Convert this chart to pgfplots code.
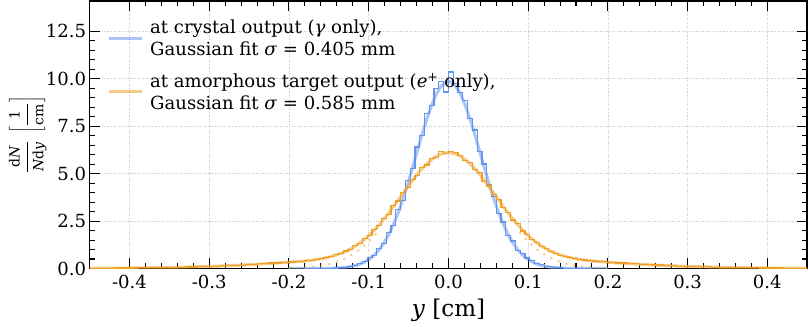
\documentclass[border=0pt]{standalone}
\usepackage{fontspec}
\setmainfont{DejaVu Serif}
\usepackage{pgfplots}
\pgfplotsset{compat=1.18}
\definecolor{cblue}{RGB}{100,149,237}
\definecolor{corange}{RGB}{238,160,40}
\newcommand{\yl}[1]{\mbox{\fontsize{14}{14}\selectfont #1}}
\begin{document}
\begin{tikzpicture}
\begin{axis}[
  scale only axis, width=713bp, height=266bp,
  xmin=-0.45, xmax=0.45, ymin=0, ymax=14.1,
  xtick={-0.4,-0.3,-0.2,-0.1,0,0.1,0.2,0.3,0.4},
  ytick={0,2.5,5,7.5,10,12.5},
  minor x tick num=4, minor y tick num=4,
  tick align=inside, xtick pos=both, ytick pos=both,
  major tick length=10bp, minor tick length=5bp,
  every tick/.style={black, line width=1bp},
  axis line style={line width=1.6bp},
  grid=major, major grid style={dotted, gray!45, line width=0.7bp},
  no markers,
  /pgf/number format/assume math mode=true,
  xticklabel style={/pgf/number format/fixed, /pgf/number format/fixed zerofill, /pgf/number format/precision=1},
  yticklabel style={/pgf/number format/fixed, /pgf/number format/fixed zerofill, /pgf/number format/precision=1},
  tick label style={font=\fontsize{18}{20}\selectfont},
  xticklabel shift=3bp,
  xlabel={\textit{y} [cm]},
  xlabel style={font=\fontsize{23}{26}\selectfont, inner sep=5bp},
  xlabel shift=2bp,
  ylabel={$\displaystyle\frac{\yl{d\textit{N}}}{\yl{\textit{N}d\textit{y}}}\;\left[\frac{\yl{1}}{\yl{cm}}\right]$},
  ylabel style={font=\fontsize{18}{20}\selectfont, inner sep=9bp},
  ylabel shift=-13bp,
  legend style={at={(rel axis cs:0.021,0.945)}, anchor=north west, draw=none, fill=none,
    font=\fontsize{18}{22}\selectfont, cells={anchor=west, align=left}, row sep=12bp, column sep=5bp},
  legend cell align=left,
  legend image code/.code={\draw[#1] (0bp,0bp) -- (32bp,0bp);},
]
% blue Gaussian fit
\addplot[draw=cblue, line width=3bp, draw opacity=0.55, line join=round] coordinates {
(-0.2,0) (-0.165,0.002) (-0.153,0.008) (-0.147,0.014) (-0.141,0.023) (-0.135,0.038) (-0.129,0.062)
(-0.123,0.098) (-0.117,0.152) (-0.111,0.230) (-0.105,0.342) (-0.099,0.496) (-0.093,0.705)
(-0.087,0.980) (-0.081,1.333) (-0.075,1.773) (-0.069,2.308) (-0.063,2.937) (-0.057,3.659)
(-0.051,4.457) (-0.045,5.313) (-0.039,6.196) (-0.033,7.067) (-0.027,7.887) (-0.021,8.611)
(-0.015,9.197) (-0.009,9.610) (-0.003,9.823) (0,9.85) (0.003,9.823) (0.009,9.610) (0.015,9.197)
(0.021,8.611) (0.027,7.887) (0.033,7.067) (0.039,6.196) (0.045,5.313) (0.051,4.457) (0.057,3.659)
(0.063,2.937) (0.069,2.308) (0.075,1.773) (0.081,1.333) (0.087,0.980) (0.093,0.705) (0.099,0.496)
(0.105,0.342) (0.111,0.230) (0.117,0.152) (0.123,0.098) (0.129,0.062) (0.135,0.038) (0.141,0.023)
(0.147,0.014) (0.153,0.008) (0.165,0.002) (0.2,0)
};
\addlegendentry{at crystal output (\textit{γ} only),\\Gaussian fit \textit{σ} = 0.405 mm}
% blue histogram
\addplot[const plot, draw=cblue, line width=1.2bp, forget plot] coordinates {
(-0.180,0.001) (-0.174,0.002) (-0.168,0.003) (-0.162,0.006) (-0.156,0.01) (-0.150,0.018)
(-0.144,0.03) (-0.138,0.05) (-0.132,0.07) (-0.126,0.12) (-0.120,0.16) (-0.114,0.26)
(-0.108,0.36) (-0.102,0.56) (-0.096,0.68) (-0.090,1.05) (-0.084,1.3) (-0.078,1.9)
(-0.072,2.25) (-0.066,3.1) (-0.060,3.6) (-0.054,4.65) (-0.048,5.25) (-0.042,6.4)
(-0.036,7.0) (-0.030,8.15) (-0.024,8.6) (-0.018,9.5) (-0.012,9.85) (-0.006,9.3)
(0.000,10.35) (0.006,9.75) (0.012,9.25) (0.018,8.85) (0.024,7.9) (0.030,7.3)
(0.036,6.15) (0.042,5.5) (0.048,4.4) (0.054,3.8) (0.060,2.9) (0.066,2.45)
(0.072,1.75) (0.078,1.45) (0.084,0.95) (0.090,0.8) (0.096,0.55) (0.102,0.42)
(0.108,0.27) (0.114,0.2) (0.120,0.12) (0.126,0.09) (0.132,0.05) (0.138,0.035)
(0.144,0.02) (0.150,0.012) (0.156,0.007) (0.162,0.004) (0.168,0.002) (0.174,0.001) (0.180,0.001)
};
% orange fit
\addplot[draw=corange, line width=3bp, draw opacity=0.55, line join=round] coordinates {
(-0.45,0.011) (-0.435,0.014) (-0.42,0.018) (-0.405,0.024) (-0.39,0.03) (-0.375,0.038) (-0.36,0.048)
(-0.345,0.06) (-0.33,0.075) (-0.315,0.09) (-0.30,0.11) (-0.285,0.135) (-0.27,0.16) (-0.255,0.19)
(-0.24,0.22) (-0.225,0.26) (-0.21,0.30) (-0.195,0.349) (-0.189,0.366) (-0.183,0.386) (-0.177,0.411)
(-0.171,0.440) (-0.165,0.475) (-0.159,0.519) (-0.153,0.571) (-0.147,0.632) (-0.141,0.704)
(-0.135,0.793) (-0.129,0.900) (-0.123,1.026) (-0.117,1.175) (-0.111,1.347) (-0.105,1.546)
(-0.099,1.769) (-0.093,2.020) (-0.087,2.295) (-0.081,2.594) (-0.075,2.914) (-0.069,3.250)
(-0.063,3.599) (-0.057,3.954) (-0.051,4.304) (-0.045,4.644) (-0.039,4.966) (-0.033,5.262)
(-0.027,5.524) (-0.021,5.743) (-0.015,5.914) (-0.009,6.031) (-0.003,6.093) (0,6.10)
(0.003,6.093) (0.009,6.031) (0.015,5.914) (0.021,5.743) (0.027,5.524) (0.033,5.262)
(0.039,4.966) (0.045,4.644) (0.051,4.304) (0.057,3.954) (0.063,3.599) (0.069,3.250)
(0.075,2.914) (0.081,2.594) (0.087,2.295) (0.093,2.020) (0.099,1.769) (0.105,1.546)
(0.111,1.347) (0.117,1.175) (0.123,1.026) (0.129,0.900) (0.135,0.793) (0.141,0.704)
(0.147,0.632) (0.153,0.571) (0.159,0.519) (0.165,0.475) (0.171,0.440) (0.177,0.411)
(0.183,0.386) (0.189,0.366) (0.195,0.349) (0.21,0.30) (0.225,0.26) (0.24,0.22) (0.255,0.19)
(0.27,0.16) (0.285,0.135) (0.30,0.11) (0.315,0.09) (0.33,0.075) (0.345,0.06) (0.36,0.048)
(0.375,0.038) (0.39,0.03) (0.405,0.024) (0.42,0.018) (0.435,0.014) (0.45,0.011)
};
\addlegendentry{at amorphous target output (\textit{e}\textsuperscript{+} only),\\Gaussian fit \textit{σ} = 0.585 mm}
% orange histogram
\addplot[const plot, draw=corange, line width=1.2bp, forget plot] coordinates {
(-0.45,0.012) (-0.435,0.016) (-0.42,0.023) (-0.405,0.027) (-0.39,0.036) (-0.375,0.043)
(-0.36,0.056) (-0.345,0.07) (-0.33,0.083) (-0.315,0.102) (-0.30,0.122) (-0.285,0.152)
(-0.27,0.178) (-0.255,0.218) (-0.24,0.248) (-0.225,0.29) (-0.21,0.315)
(-0.198,0.34) (-0.192,0.37) (-0.186,0.38) (-0.180,0.42) (-0.174,0.43) (-0.168,0.48)
(-0.162,0.51) (-0.156,0.58) (-0.150,0.62) (-0.144,0.72) (-0.138,0.78) (-0.132,0.92)
(-0.126,1.0) (-0.120,1.2) (-0.114,1.32) (-0.108,1.58) (-0.102,1.72) (-0.096,2.07)
(-0.090,2.25) (-0.084,2.65) (-0.078,2.85) (-0.072,3.3) (-0.066,3.55) (-0.060,4.0)
(-0.054,4.25) (-0.048,4.7) (-0.042,4.9) (-0.036,5.3) (-0.030,5.45) (-0.024,5.8)
(-0.018,5.85) (-0.012,6.15) (-0.006,6.05) (0.000,6.15) (0.006,6.1) (0.012,5.95)
(0.018,5.7) (0.024,5.6) (0.030,5.2) (0.036,5.05) (0.042,4.6) (0.048,4.35)
(0.054,3.9) (0.060,3.65) (0.066,3.2) (0.072,2.95) (0.078,2.55) (0.084,2.35)
(0.090,1.98) (0.096,1.8) (0.102,1.52) (0.108,1.38) (0.114,1.15) (0.120,1.05)
(0.126,0.88) (0.132,0.81) (0.138,0.69) (0.144,0.65) (0.150,0.56) (0.156,0.53)
(0.162,0.47) (0.168,0.45) (0.174,0.4) (0.180,0.39) (0.186,0.36) (0.192,0.35)
(0.198,0.32) (0.21,0.285) (0.225,0.25) (0.24,0.215) (0.255,0.18) (0.27,0.15)
(0.285,0.125) (0.30,0.1) (0.315,0.085) (0.33,0.068) (0.345,0.055) (0.36,0.044)
(0.375,0.035) (0.39,0.028) (0.405,0.022) (0.42,0.017) (0.435,0.013) (0.45,0.013)
};
% orange Gaussian (dotted, tails)
\addplot[draw=corange, draw opacity=0.5, line width=3bp, line cap=round, dash pattern=on 0bp off 8bp, forget plot] coordinates {
(-0.20,0.018) (-0.19,0.031) (-0.18,0.054) (-0.17,0.089) (-0.16,0.145) (-0.15,0.228)
(-0.14,0.348) (-0.13,0.517) (-0.12,0.744) (-0.11,1.041) (-0.10,1.415) (-0.09,1.868)
};
\addplot[draw=corange, draw opacity=0.5, line width=3bp, line cap=round, dash pattern=on 0bp off 8bp, forget plot] coordinates {
(0.09,1.868) (0.10,1.415) (0.11,1.041) (0.12,0.744) (0.13,0.517) (0.14,0.348)
(0.15,0.228) (0.16,0.145) (0.17,0.089) (0.18,0.054) (0.19,0.031) (0.20,0.018)
};
\end{axis}
\end{tikzpicture}
\end{document}
